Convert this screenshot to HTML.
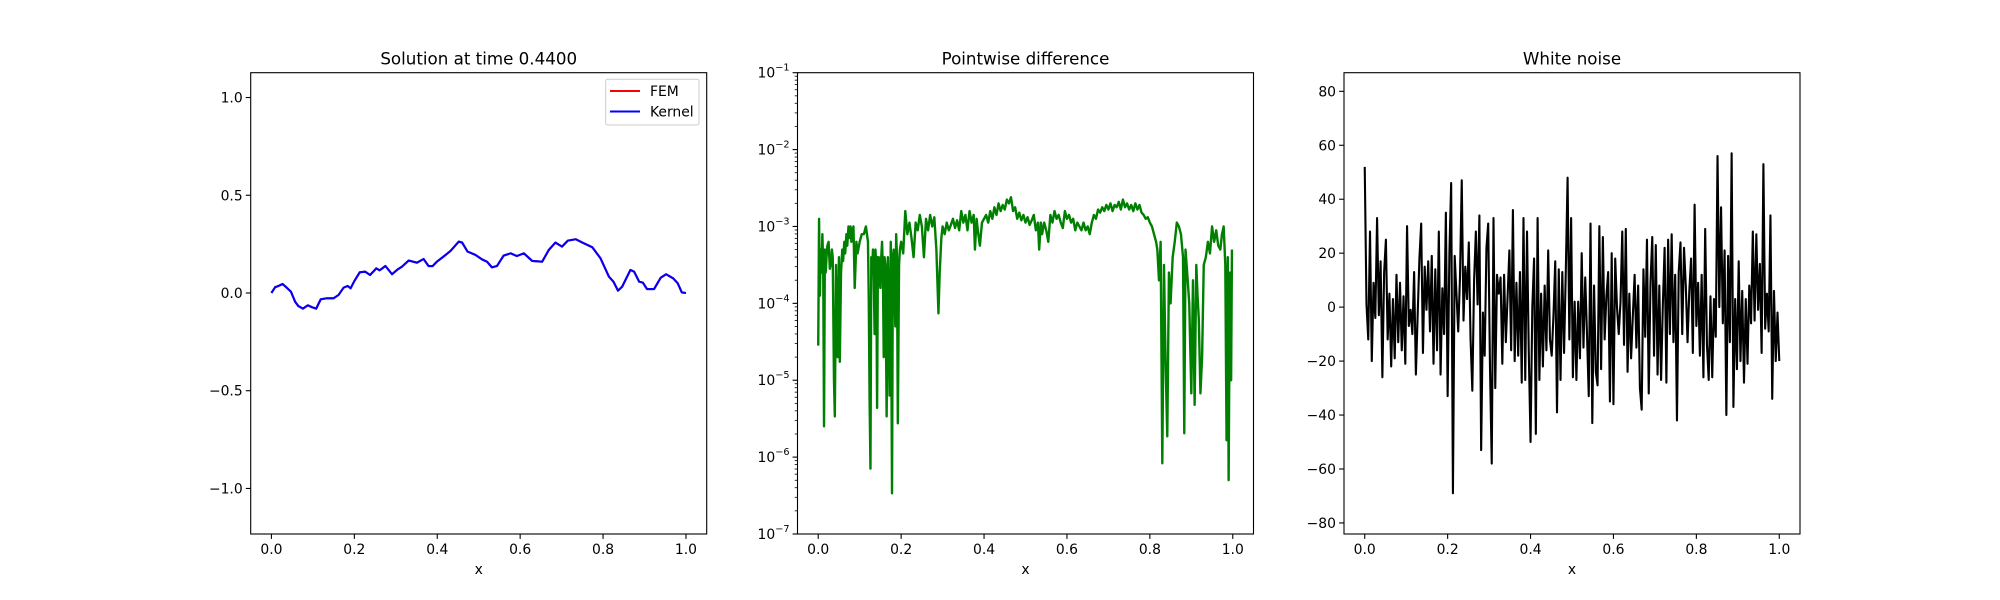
<!DOCTYPE html>
<html><head><meta charset="utf-8"><style>
html,body{margin:0;padding:0;background:#fff}
svg{display:block}
text{font-family:"DejaVu Sans","Liberation Sans",sans-serif;fill:#000}
</style></head><body>
<svg id="fig" width="2000" height="600" viewBox="0 0 2000 600" xmlns="http://www.w3.org/2000/svg"></svg>
<script>
// ---------- data ----------
const solX = [0,0.009,0.017,0.027,0.037,0.047,0.057,0.065,0.076,0.088,0.098,0.108,0.119,0.134,0.15,0.162,0.174,0.184,0.191,0.2,0.213,0.226,0.238,0.253,0.261,0.275,0.291,0.303,0.315,0.331,0.351,0.367,0.379,0.389,0.399,0.415,0.432,0.452,0.46,0.473,0.492,0.508,0.52,0.532,0.544,0.56,0.577,0.592,0.609,0.629,0.653,0.669,0.685,0.701,0.715,0.734,0.75,0.774,0.794,0.814,0.825,0.836,0.846,0.866,0.875,0.887,0.896,0.906,0.923,0.939,0.952,0.969,0.98,0.99,1];
const solY = [0,0.03,0.036,0.046,0.027,0.007,-0.044,-0.067,-0.08,-0.063,-0.073,-0.08,-0.032,-0.027,-0.027,-0.01,0.027,0.036,0.024,0.061,0.106,0.109,0.092,0.126,0.116,0.138,0.096,0.118,0.135,0.166,0.155,0.174,0.138,0.138,0.16,0.186,0.215,0.263,0.258,0.212,0.195,0.172,0.16,0.131,0.138,0.191,0.203,0.189,0.203,0.164,0.16,0.22,0.258,0.237,0.268,0.275,0.258,0.234,0.177,0.084,0.058,0.012,0.032,0.118,0.109,0.058,0.053,0.02,0.02,0.078,0.096,0.075,0.05,0.003,0];
const diffX = [0,0.002,0.004,0.006,0.008,0.010,0.012,0.014,0.016,0.018,0.020,0.022,0.025,0.028,0.030,0.033,0.035,0.038,0.040,0.043,0.047,0.050,0.052,0.055,0.058,0.060,0.063,0.065,0.068,0.070,0.073,0.075,0.078,0.080,0.083,0.085,0.088,0.092,0.095,0.100,0.105,0.110,0.115,0.120,0.122,0.124,0.126,0.128,0.130,0.132,0.134,0.136,0.138,0.140,0.142,0.144,0.146,0.148,0.150,0.152,0.154,0.156,0.158,0.160,0.162,0.165,0.168,0.170,0.172,0.175,0.178,0.180,0.182,0.184,0.186,0.188,0.190,0.192,0.195,0.197,
0.200,0.205,0.210,0.215,0.220,0.225,0.230,0.235,0.240,0.245,0.250,0.255,0.260,0.265,0.270,0.275,0.280,0.285,0.290,0.293,0.297,0.300,0.305,0.310,0.315,0.320,0.325,0.330,0.335,0.340,0.345,0.350,0.355,0.360,0.365,0.370,0.375,0.378,0.382,0.385,0.390,0.395,0.400,0.405,0.410,0.415,0.420,0.425,0.430,0.435,0.440,0.445,0.450,0.455,0.460,0.465,0.470,0.475,0.480,0.485,0.490,0.495,0.500,0.505,0.510,0.515,0.520,0.525,0.530,0.533,0.537,0.540,0.545,0.550,0.555,0.560,0.565,0.570,0.575,0.580,0.585,0.590,0.595,0.600,0.605,0.610,0.615,0.620,0.625,0.630,0.635,0.640,0.645,0.650,0.655,0.660,0.665,0.670,0.675,0.680,0.685,0.690,0.695,0.700,0.705,0.710,0.715,0.720,0.725,0.730,0.735,0.740,0.745,0.750,0.755,0.760,0.765,0.770,0.775,0.780,0.785,0.790,0.795,0.800,0.805,0.810,0.815,
0.818,0.822,0.826,0.830,0.834,0.838,0.842,0.846,0.850,0.855,0.860,0.865,0.870,0.875,0.880,0.883,0.886,0.890,0.895,0.900,0.904,0.908,0.912,0.915,0.918,0.922,0.926,0.930,0.935,0.940,0.945,0.950,0.955,0.960,0.965,0.970,0.974,0.978,0.982,0.985,0.988,0.990,0.993,0.996,0.998];
const diffLog10 = [-4.55,-2.9,-3.9,-3.3,-3.6,-3.1,-3.5,-5.6,-3.3,-3.6,-3.4,-3.25,-3.2,-3.55,-3.5,-3.3,-3.4,-5.0,-5.47,-3.5,-4.7,-3.4,-4.76,-3.6,-3.3,-3.45,-3.2,-3.35,-3.1,-3.25,-3.0,-3.15,-3.0,-3.2,-3.05,-3.0,-3.8,-3.2,-3.35,-3.2,-3.1,-3.1,-3.0,-3.2,-4.0,-5.3,-6.15,-3.4,-3.6,-3.3,-3.7,-4.4,-3.3,-3.5,-5.36,-3.4,-3.4,-3.7,-3.8,-3.4,-3.2,-3.6,-4.7,-3.4,-3.5,-5.47,-3.4,-3.9,-5.2,-3.2,-6.47,-3.4,-3.3,-3.8,-4.3,-3.1,-3.4,-5.56,-3.5,-3.3,
-3.2,-3.35,-2.8,-3.1,-2.95,-3.15,-3.4,-2.95,-3.05,-2.85,-3.0,-3.4,-2.9,-3.05,-2.85,-3.0,-2.88,-3.3,-4.13,-3.6,-3.15,-3.0,-3.1,-2.95,-3.05,-2.98,-2.9,-3.02,-2.92,-3.05,-2.8,-2.95,-2.85,-3.05,-2.8,-2.95,-2.85,-3.3,-2.9,-3.05,-3.25,-2.95,-2.9,-2.85,-2.95,-2.8,-2.9,-2.75,-2.85,-2.7,-2.8,-2.72,-2.78,-2.65,-2.7,-2.62,-2.8,-2.75,-2.9,-2.82,-2.92,-2.85,-2.95,-2.88,-2.98,-2.92,-2.85,-3.05,-2.95,-3.3,-2.95,-3.1,-2.95,-3.05,-3.2,-2.85,-2.95,-2.8,-2.9,-2.85,-2.95,-3.02,-2.8,-2.9,-2.85,-2.95,-2.9,-3.05,-2.95,-3.0,-3.05,-2.95,-3.05,-3.0,-3.1,-2.95,-2.85,-2.9,-2.78,-2.82,-2.75,-2.8,-2.72,-2.78,-2.7,-2.8,-2.72,-2.75,-2.68,-2.78,-2.65,-2.75,-2.7,-2.78,-2.72,-2.8,-2.7,-2.78,-2.72,-2.82,-2.85,-2.9,-2.88,-2.95,-3.0,-3.1,-3.2,
-3.3,-3.7,-3.2,-6.08,-3.5,-4.8,-5.73,-3.6,-4.0,-3.4,-3.2,-2.95,-3.0,-3.1,-3.4,-5.69,-3.3,-3.6,-4.0,-5.17,-3.7,-5.32,-3.5,-3.9,-4.2,-5.17,-4.7,-3.5,-3.4,-3.2,-3.35,-3.0,-3.2,-3.05,-3.25,-3.3,-3.1,-3.0,-3.5,-5.78,-3.4,-6.3,-3.6,-5.0,-3.3];
const noiseY = [52,1,-12,28,-20,9,-4,33,-3,17,
-26,13,25,-12,5,-22,3,-19,12,-13,
9,-16,4,-21,30,-7,-1,-10,13,-25,
-3,18,31,-17,15,-1,17,-9,19,-21,
14,-16,28,-25,7,-10,35,-33,20,46,
-69,19,5,-9,11,47,-5,15,3,24,
-12,-31,10,28,1,34,-53,-2,-18,22,
31,-22,-58,33,-30,12,5,11,-21,12,
-13,4,21,-16,36,-20,9,-18,13,-28,
33,-27,28,-17,-50,0,18,-47,33,-27,
5,-22,8,-16,21,-12,-18,-3,17,-39,
14,-27,13,-17,14,48,-12,33,-26,2,
-27,2,-19,20,-15,11,-10,-33,31,-43,
8,-24,-29,30,-23,26,-12,4,13,-35,
20,-36,18,0,-10,2,28,-14,29,-24,
5,-19,-3,12,-15,8,-30,-38,14,-11,
25,-32,9,26,-18,23,-25,8,-27,1,
22,-28,25,-10,27,-13,12,-42,13,24,
-10,22,8,-13,6,18,-17,38,-7,9,
-18,12,-26,29,-14,-27,4,-26,3,-11,
56,0,37,-6,21,-40,19,-13,57,-37,
3,-23,17,-20,6,-28,3,-21,8,-6,
28,-5,27,-1,16,-17,53,-8,5,-9,
34,-34,6,-20,-2,-20];
const xTicks = [0,0.2,0.4,0.6,0.8,1.0];
const xTickLabels = ["0.0","0.2","0.4","0.6","0.8","1.0"];
const solTicks = [1.0,0.5,0,-0.5,-1.0];
const solTickLabels = ["1.0","0.5","0.0","\u22120.5","\u22121.0"];
const diffTickExp = [-1,-2,-3,-4,-5,-6,-7];
const noiseTicks = [80,60,40,20,0,-20,-40,-60,-80];
const noiseTickLabels = ["80","60","40","20","0","\u221220","\u221240","\u221260","\u221280"];

// ---------- drawing ----------
const NS = "http://www.w3.org/2000/svg";
const svg = document.getElementById('fig');
function mk(tag, attrs, parent){const e=document.createElementNS(NS,tag);for(const k in attrs)e.setAttribute(k,attrs[k]);(parent||svg).appendChild(e);return e;}
const TOP=72.7, BOT=534;
const panels=[{l:250.7,r:706.7},{l:797.5,r:1253.5},{l:1344,r:1800}];
function xs(p){return v=>p.l+(v+0.05)/1.1*(p.r-p.l);}
function linY(lo,hi){return v=>BOT-(v-lo)/(hi-lo)*(BOT-TOP);}

function axesFrame(p,name,title){
  const g=mk('g',{});
  
  
  const t=mk('text',{x:(p.l+p.r)/2,y:TOP-8,'text-anchor':'middle','font-size':'16.7'},g);
  
  
  t.textContent=title;
  const X=xs(p);
  xTicks.forEach((v,i)=>{
    const tk=mk('line',{x1:X(v),x2:X(v),y1:BOT,y2:BOT+4.9,stroke:'#000','stroke-width':1.1},g);
    
    
    const tl=mk('text',{x:X(v),y:BOT+20,'text-anchor':'middle','font-size':'13.9'},g);
    
    
    tl.textContent=xTickLabels[i];
  });
  const xl=mk('text',{x:(p.l+p.r)/2,y:BOT+40,'text-anchor':'middle','font-size':'13.9'},g);
  
  
  xl.textContent='x';
  return g;
}
function yTick(g,p,y,label,minor){
  const tk=mk('line',{x1:p.l-(minor?2.8:4.9),x2:p.l,y1:y,y2:y,stroke:'#000','stroke-width':minor?0.8:1.1},g);
  
  
  if(label!==null){
    const tl=mk('text',{x:p.l-8,y:y+5,'text-anchor':'end','font-size':'13.9'},g);
    
    
    tl.textContent=label;
  }
}
function border(g,p){
  const b=mk('rect',{x:p.l,y:TOP,width:p.r-p.l,height:BOT-TOP,fill:'none',stroke:'#000','stroke-width':1.1},g);
  
  
}
function poly(g,pts,color,name){
  const e=mk('polyline',{points:pts.map(q=>q[0].toFixed(2)+','+q[1].toFixed(2)).join(' '),fill:'none',stroke:color,'stroke-width':2.1,'stroke-linejoin':'round'},g);
  
  
  return e;
}

// Panel 1
{
  const p=panels[0], g=axesFrame(p,'solution-panel','Solution at time 0.4400');
  const X=xs(p), Y=linY(-1.233,1.127);
  solTicks.forEach((v,i)=>yTick(g,p,Y(v),solTickLabels[i],false));
  poly(g,solX.map((x,i)=>[X(x),Y(solY[i])]),'#ff0000','fem-line');
  poly(g,solX.map((x,i)=>[X(x),Y(solY[i])]),'#0000ff','kernel-line');
  border(g,p);
  const lg=mk('g',{},g);
  
  
  mk('rect',{x:605.7,y:79.3,width:93.3,height:45.7,rx:2,fill:'#fff','fill-opacity':0.8,stroke:'#cccccc','stroke-width':1},lg);
  const l1=mk('line',{x1:610,x2:640,y1:91,y2:91,stroke:'#ff0000','stroke-width':2.1},lg);
  
  
  const t1=mk('text',{x:650,y:96,'font-size':'13.9'},lg);t1.textContent='FEM';
  
  
  const l2=mk('line',{x1:610,x2:640,y1:111.5,y2:111.5,stroke:'#0000ff','stroke-width':2.1},lg);
  
  
  const t2=mk('text',{x:650,y:116.5,'font-size':'13.9'},lg);t2.textContent='Kernel';
  
  
}
// Panel 2
{
  const p=panels[1], g=axesFrame(p,'difference-panel','Pointwise difference');
  const X=xs(p), Y=v=>BOT-(v+7)/6*(BOT-TOP);
  diffTickExp.forEach(e=>{
    const y=Y(e);
    yTick(g,p,y,null,false);
    const tl=mk('text',{x:p.l-8,y:y+5,'text-anchor':'end','font-size':'13.9'},g);
    
    
    const a=mk('tspan',{},tl);a.textContent='10';
    const b=mk('tspan',{dy:'-7','font-size':'9.7'},tl);b.textContent='\u2212'+(-e);
    if(e>-7){for(let m=2;m<=9;m++){yTick(g,p,Y(e-1+Math.log10(m)),null,true);}}
  });
  poly(g,diffX.map((x,i)=>[X(x),Y(diffLog10[i])]),'#008000','difference-line').setAttribute('stroke-width','2.4');
  border(g,p);
}
// Panel 3
{
  const p=panels[2], g=axesFrame(p,'noise-panel','White noise');
  const X=xs(p), Y=linY(-84.1,86.9);
  noiseTicks.forEach((v,i)=>yTick(g,p,Y(v),noiseTickLabels[i],false));
  const n=noiseY.length;
  poly(g,noiseY.map((v,i)=>[X(i/(n-1)),Y(v)]),'#000000','noise-line');
  border(g,p);
}
</script>
</body></html>
